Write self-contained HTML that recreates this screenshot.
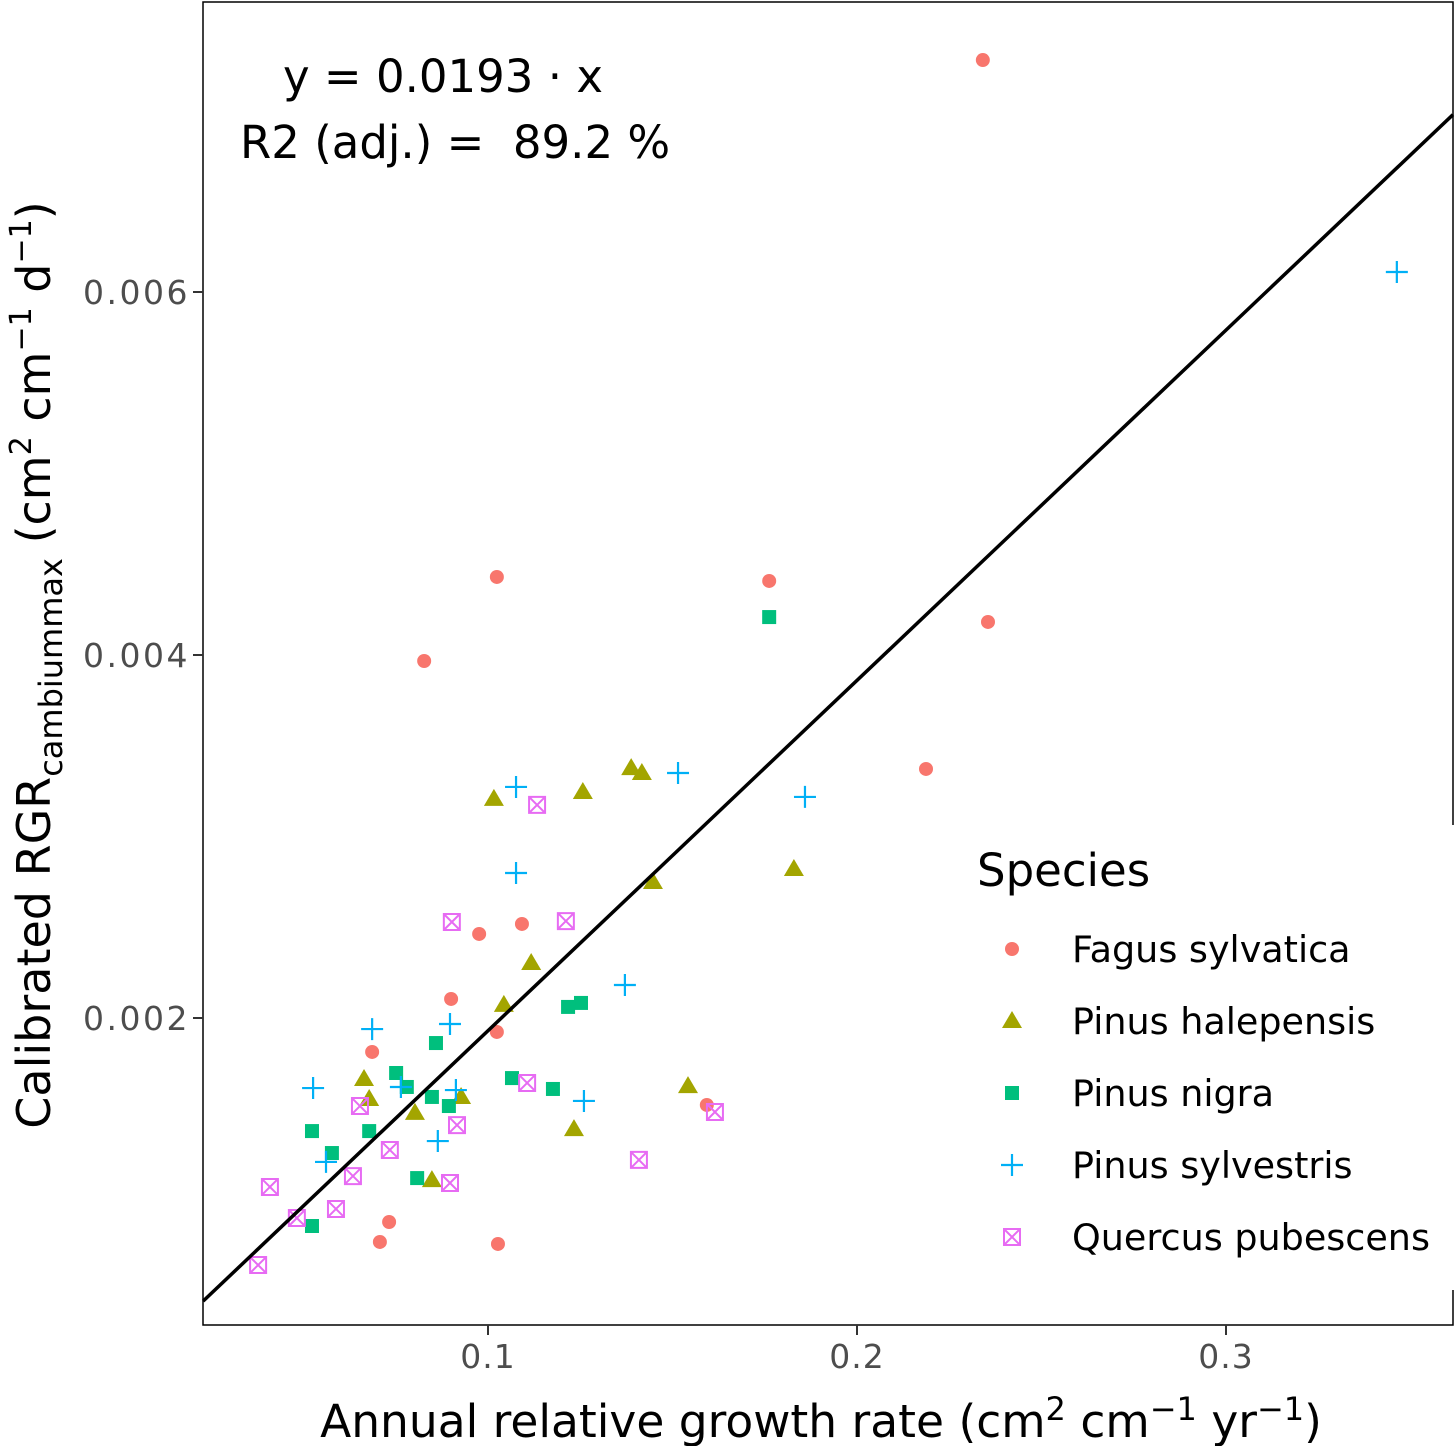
<!DOCTYPE html>
<html><head><meta charset="utf-8"><style>
html,body{margin:0;padding:0;background:#fff}
svg{display:block;font-family:"DejaVu Sans","Liberation Sans",sans-serif}
</style></head><body>
<svg id="chart" width="1455" height="1446" viewBox="0 0 1455 1446">
<rect x="203" y="2" width="1250" height="1323" fill="#fff" stroke="#000" stroke-width="1.5"/>
<g id="axes"></g>
<g id="marks"></g>
<text x="283" y="92" font-size="45" fill="#000">y = 0.0193 · x</text>
<text x="240" y="158" font-size="45" fill="#000" xml:space="preserve">R2 (adj.) =  89.2 %</text>
<text x="821" y="1437" font-size="45.5" text-anchor="middle" fill="#000">Annual relative growth rate (cm<tspan dy="-17" font-size="32">2</tspan><tspan dy="17"> cm</tspan><tspan dy="-17" font-size="32">−1</tspan><tspan dy="17"> yr</tspan><tspan dy="-17" font-size="32">−1</tspan><tspan dy="17">)</tspan></text>
<text transform="translate(50,665) rotate(-90)" font-size="46" text-anchor="middle" fill="#000">Calibrated RGR<tspan dy="12" font-size="32">cambiummax</tspan><tspan dy="-12"> (cm</tspan><tspan dy="-19" font-size="30">2</tspan><tspan dy="19"> cm</tspan><tspan dy="-19" font-size="30">−1</tspan><tspan dy="19">  d</tspan><tspan dy="-19" font-size="30">−1</tspan><tspan dy="19">)</tspan></text>
<g id="legend"></g>
</svg>
<script>
const speciesNames=["Fagus sylvatica","Pinus halepensis","Pinus nigra","Pinus sylvestris","Quercus pubescens"];
const fagusX=[0.2341,0.1024,0.1762,0.2355,0.0827,0.2187,0.1092,0.0976,0.0900,0.1024,0.0686,0.1593,0.0732,0.0707,0.1027];
const fagusY=[0.007278,0.004430,0.004408,0.004182,0.003967,0.003372,0.002518,0.002463,0.002105,0.001923,0.001813,0.001521,0.000876,0.000766,0.000755];
const halepX=[0.1388,0.1417,0.1016,0.1257,0.1447,0.1829,0.1117,0.1043,0.0664,0.0678,0.0927,0.0802,0.1542,0.1233,0.0848];
const halepY=[0.003377,0.003350,0.003207,0.003245,0.002749,0.002821,0.002303,0.002072,0.001664,0.001554,0.001565,0.001477,0.001625,0.001388,0.001107];
const nigraX=[0.1762,0.1252,0.1217,0.0859,0.0751,0.1065,0.0780,0.1176,0.0848,0.0894,0.0523,0.0678,0.0577,0.0808,0.0523];
const nigraY=[0.004209,0.002083,0.002061,0.001862,0.001697,0.001669,0.001620,0.001609,0.001565,0.001515,0.001377,0.001377,0.001256,0.001118,0.000854];
const sylvX=[0.3463,0.1515,0.1076,0.1859,0.1076,0.1371,0.0686,0.0897,0.0526,0.0764,0.0913,0.1260,0.0864,0.0561];
const sylvY=[0.006110,0.003350,0.003273,0.003218,0.002799,0.002182,0.001939,0.001967,0.001614,0.001620,0.001603,0.001543,0.001322,0.001207];
const quercX=[0.1133,0.1211,0.0902,0.1106,0.1615,0.0653,0.0916,0.0734,0.1409,0.0634,0.0897,0.0409,0.0588,0.0482,0.0377];
const quercY=[0.003174,0.002534,0.002529,0.001642,0.001482,0.001515,0.001410,0.001273,0.001218,0.001129,0.001091,0.001069,0.000948,0.000898,0.000639];
const slope=0.0193;
const xTicks=[0.1,0.2,0.3];
const xTickLabels=["0.1","0.2","0.3"];
const yTicks=[0.002,0.004,0.006];
const yTickLabels=["0.002","0.004","0.006"];

const NS="http://www.w3.org/2000/svg";
const X=v=>488+(v-0.1)*3690;
const Y=v=>1018-(v-0.002)*181500;
const colors=["#F8766D","#A3A500","#00BF7D","#00B0F6","#E76BF3"];
function mk(tag,attrs,parent){const e=document.createElementNS(NS,tag);for(const k in attrs)e.setAttribute(k,attrs[k]);parent.appendChild(e);return e;}
const axes=document.getElementById('axes'),marks=document.getElementById('marks');
xTicks.forEach((t,i)=>{
  const l=mk('line',{x1:X(t),x2:X(t),y1:1325,y2:1335,stroke:'#333','stroke-width':2},axes);
  
  
  const tx=mk('text',{x:X(t),y:1368,'font-size':33,'letter-spacing':1,'text-anchor':'middle',fill:'#4d4d4d'},axes);
  tx.textContent=xTickLabels[i];
  
  
});
yTicks.forEach((t,i)=>{
  const l=mk('line',{x1:193,x2:203,y1:Y(t),y2:Y(t),stroke:'#333','stroke-width':2},axes);
  
  
  const tx=mk('text',{x:190,y:Y(t)+12,'font-size':33,'letter-spacing':2.5,'text-anchor':'end',fill:'#4d4d4d'},axes);
  tx.textContent=yTickLabels[i];
  
  
});
function sym(kind,cx,cy,c,parent,s){
  s=s||1;let g;
  if(kind===0)g=mk('circle',{cx:cx,cy:cy,r:7*s,fill:c},parent);
  else if(kind===1)g=mk('polygon',{points:`${cx},${cy-10*s} ${cx+10*s},${cy+7*s} ${cx-10*s},${cy+7*s}`,fill:c},parent);
  else if(kind===2)g=mk('rect',{x:cx-7*s,y:cy-7*s,width:14*s,height:14*s,fill:c},parent);
  else if(kind===3)g=mk('path',{d:`M${cx-11*s},${cy}H${cx+11*s}M${cx},${cy-11*s}V${cy+11*s}`,stroke:c,'stroke-width':2.2,fill:'none'},parent);
  else g=mk('path',{d:`M${cx-8*s},${cy-8*s}h${16*s}v${16*s}h${-16*s}zM${cx-8*s},${cy-8*s}L${cx+8*s},${cy+8*s}M${cx+8*s},${cy-8*s}L${cx-8*s},${cy+8*s}`,stroke:c,'stroke-width':2,fill:'none'},parent);
  return g;
}
const sx=[fagusX,halepX,nigraX,sylvX,quercX],sy=[fagusY,halepY,nigraY,sylvY,quercY];
sx.forEach((xs,k)=>xs.forEach((v,i)=>{
  const p=sym(k,X(v),Y(sy[k][i]),colors[k],marks);
  
  
}));
const x0=0.0228,x1=0.3615;
const rl=mk('line',{x1:X(x0),y1:Y(slope*x0),x2:X(x1),y2:Y(slope*x1),stroke:'#000','stroke-width':3.5},marks);


const lg=document.getElementById('legend');
mk('rect',{x:955,y:825,width:510,height:465,fill:'#fff'},lg);
const lt=mk('text',{x:977,y:886,'font-size':45,fill:'#000'},lg);
lt.textContent='Species';


speciesNames.forEach((n,k)=>{
  const yy=949+72*k;
  const s=sym(k,1012,yy,colors[k],lg);
  
  
  const t=mk('text',{x:1072,y:yy+13,'font-size':36.5,fill:'#000'},lg);
  t.textContent=n;
  
  
});
</script>
</body></html>
